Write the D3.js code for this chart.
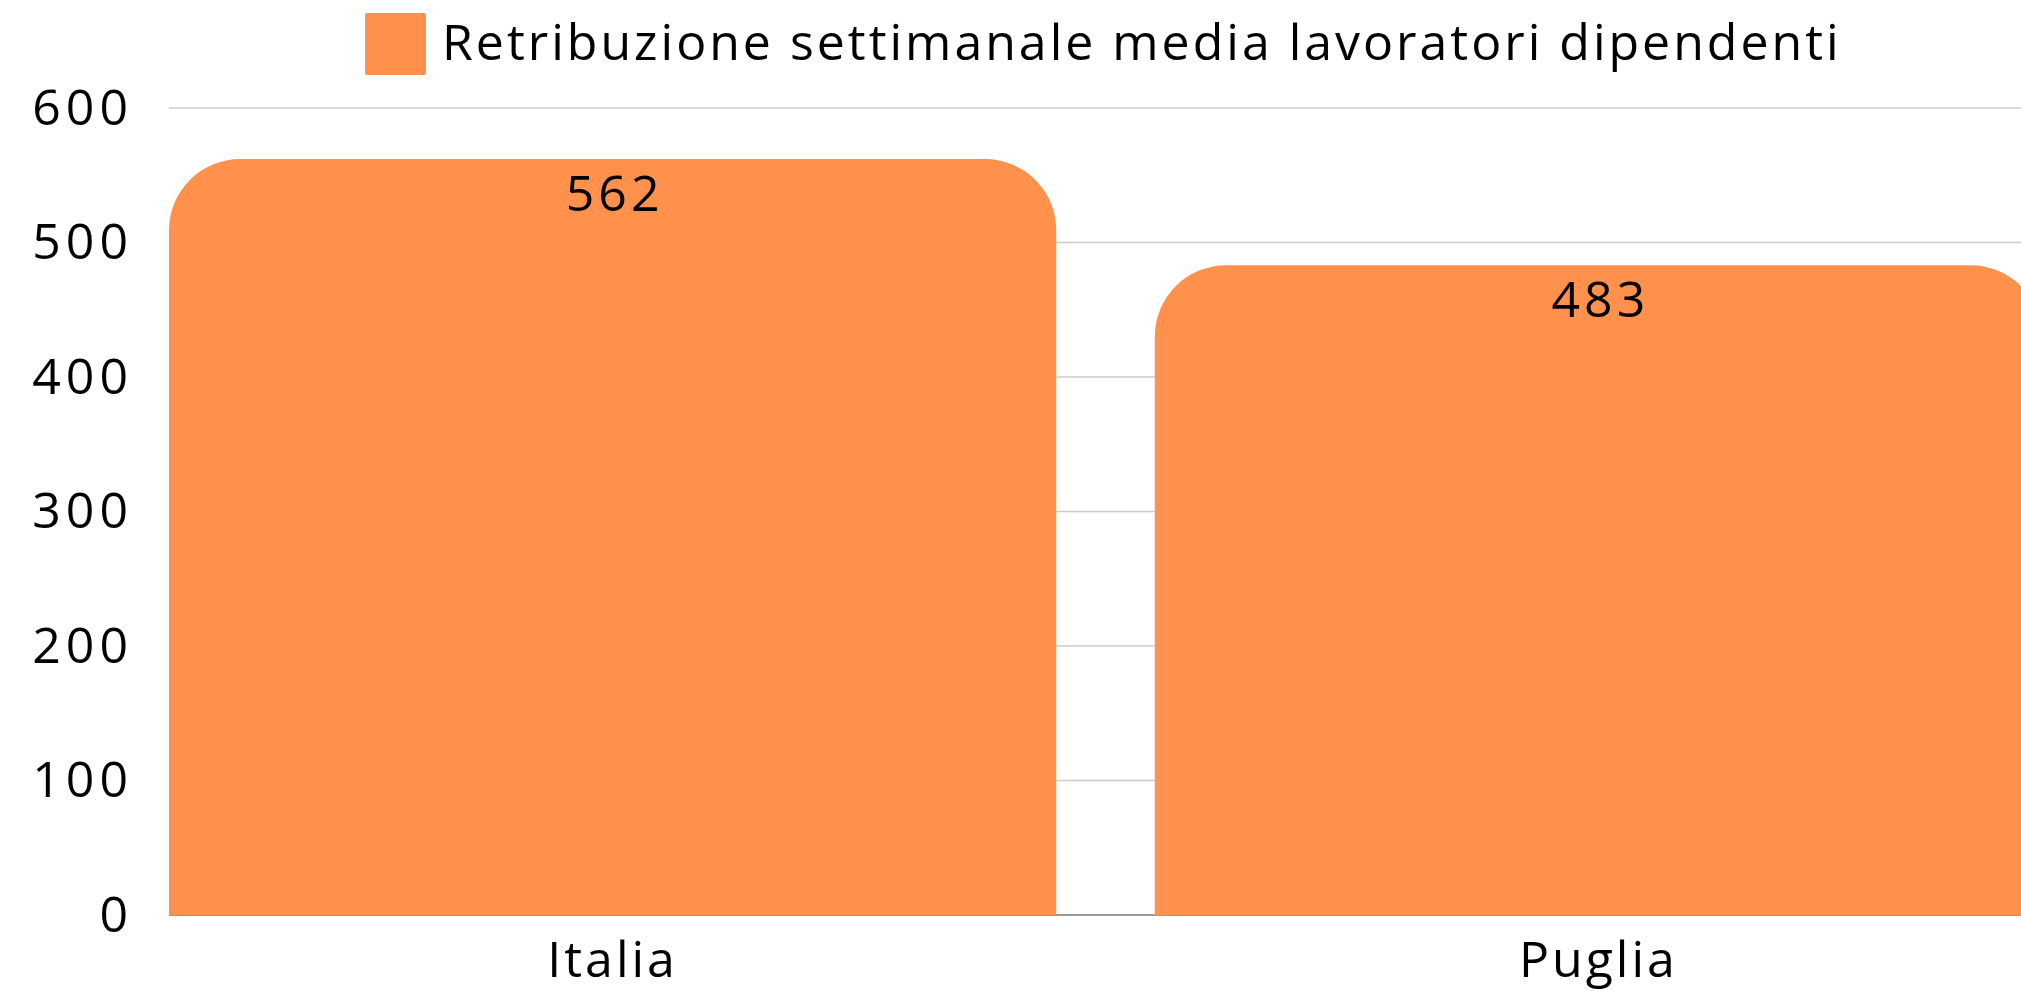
<!DOCTYPE html>
<html>
<head>
<meta charset="utf-8">
<script src="https://cdn.jsdelivr.net/npm/d3@7"></script>
<style>
  html, body { margin: 0; padding: 0; background: #fff; overflow: hidden; }
  svg { display: block; font-family: "Open Sans", sans-serif; }
</style>
</head>
<body>
<script>
var width = 2021, height = 993;
var margin = { top: 108, right: -21, bottom: 78, left: 169 };

var categories = ["Italia", "Puglia"];
var values = [562, 483];
var yTicks = [0, 100, 200, 300, 400, 500, 600];
var seriesName = "Retribuzione settimanale media lavoratori dipendenti";
var barColor = "#ff914d";

var svg = d3.select("body")
    .append("svg")
    .attr("width", width)
    .attr("height", height);

// scales
var x = d3.scaleBand()
    .domain(categories)
    .range([margin.left, width - margin.right])
    .paddingInner(0.1)
    .paddingOuter(0);

var y = d3.scaleLinear()
    .domain([0, 600])
    .range([height - margin.bottom, margin.top]);

// grid lines
svg.append("g")
    .selectAll("line")
    .data(yTicks)
    .enter()
    .append("line")
    .attr("x1", margin.left)
    .attr("x2", width)
    .attr("y1", function (d) { return y(d) })
    .attr("y2", function (d) { return y(d) })
    .attr("stroke", "#cccccc")
    .attr("stroke-width", 1.5);

// baseline
svg.append("line")
    .attr("x1", margin.left)
    .attr("x2", width)
    .attr("y1", y(0))
    .attr("y2", y(0))
    .attr("stroke", "#999999")
    .attr("stroke-width", 2);

// y axis labels
var yAxis = svg.append("g")
    .attr("transform", "translate(" + (margin.left - 36) + ",0)")
    .call(d3.axisLeft(y).tickValues(yTicks).tickSize(0).tickPadding(0));
yAxis.select(".domain").remove();
yAxis.selectAll("text")
    .attr("font-size", 50)
    .attr("letter-spacing", 5)
    .attr("font-family", "Open Sans, sans-serif")
    .attr("fill", "#000");

// bars with rounded top corners
var r = 71;
var barPath = function (d, i) {
    var x0 = x(categories[i]), x1 = x0 + x.bandwidth();
    var yt = y(d), yb = y(0);
    return "M" + x0 + "," + yb +
        "L" + x0 + "," + (yt + r) +
        "A" + r + "," + r + " 0 0 1 " + (x0 + r) + "," + yt +
        "L" + (x1 - r) + "," + yt +
        "A" + r + "," + r + " 0 0 1 " + x1 + "," + (yt + r) +
        "L" + x1 + "," + yb + "Z";
};

svg.append("g")
    .selectAll("path")
    .data(values)
    .enter()
    .append("path")
    .attr("d", barPath)
    .attr("fill", barColor);

// value labels
svg.append("g")
    .selectAll("text")
    .data(values)
    .enter()
    .append("text")
    .attr("x", function (d, i) { return x(categories[i]) + x.bandwidth() / 2 + 2 })
    .attr("y", function (d) { return y(d) + 52 })
    .attr("text-anchor", "middle")
    .attr("font-size", 50)
    .attr("letter-spacing", 4)
    .attr("fill", "#000")
    .text(function (d) { return d });

// x axis labels
var xAxis = svg.append("g")
    .attr("transform", "translate(0," + y(0) + ")")
    .call(d3.axisBottom(x).tickSize(0).tickPadding(0));
xAxis.select(".domain").remove();
xAxis.selectAll("text")
    .attr("dy", null)
    .attr("y", 62)
    .attr("font-size", 50)
    .attr("letter-spacing", 3)
    .attr("font-family", "Open Sans, sans-serif")
    .attr("fill", "#000");

// legend
var legend = svg.append("g");
legend.append("rect")
    .attr("x", 365)
    .attr("y", 13)
    .attr("width", 61)
    .attr("height", 62)
    .attr("rx", 2)
    .attr("fill", barColor);
legend.append("text")
    .attr("x", 442)
    .attr("y", 60)
    .attr("font-size", 50)
    .attr("letter-spacing", 3)
    .attr("fill", "#000")
    .text(seriesName);
</script>
</body>
</html>
